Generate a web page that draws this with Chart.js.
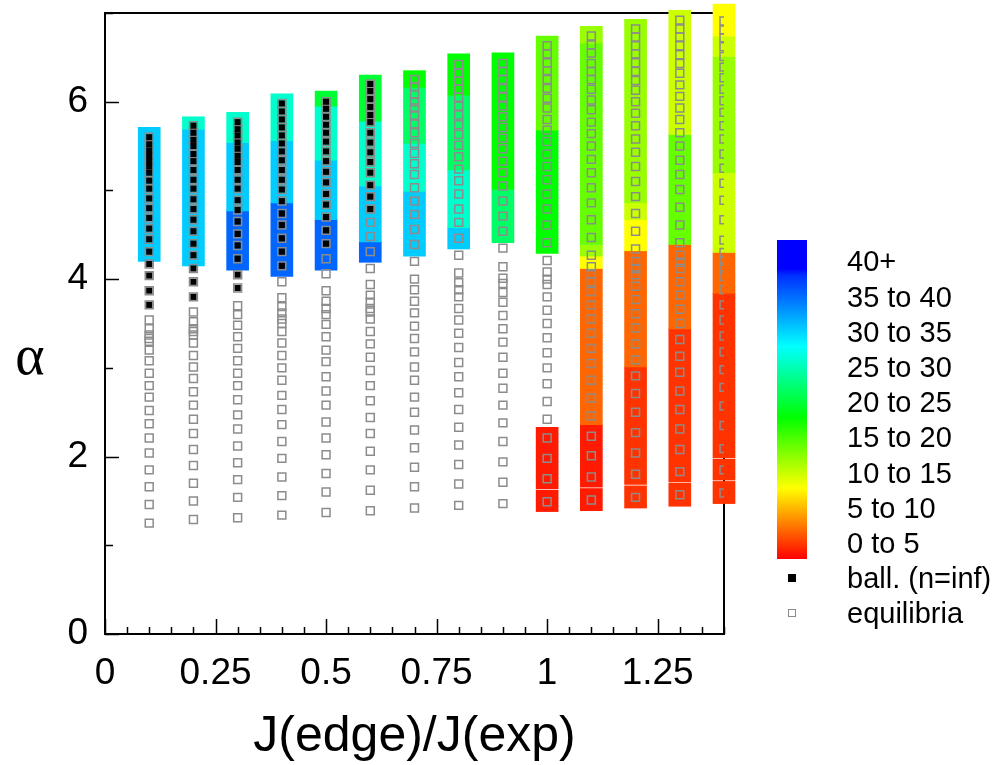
<!DOCTYPE html>
<html><head><meta charset="utf-8">
<script src="https://cdn.jsdelivr.net/npm/chart.js@4.4.1/dist/chart.umd.min.js"></script>
<style>
html,body{margin:0;padding:0;background:#fff;}
#wrap{position:relative;width:1005px;height:765px;overflow:hidden;font-family:'Liberation Sans',Arial,sans-serif;color:#000;}
canvas{position:absolute;left:0;top:0;}
#alpha{position:absolute;left:0;width:60px;top:325px;text-align:center;font-family:'Liberation Serif','Times New Roman',serif;font-size:56px;line-height:60px;}
#cbar{position:absolute;left:777px;top:240px;width:30px;height:319px;
 background:linear-gradient(to top,#ff0000 0%,#ff8000 11.1%,#ffff00 22.2%,#80ff00 33.3%,#00ff00 44.4%,#00ff80 55.5%,#00ffff 66.7%,#0080ff 80%,#0030ff 88.9%,#0000ff 91%,#0000ff 100%);}
.lab{position:absolute;left:847px;font-size:29px;line-height:34px;white-space:nowrap;}
.mk{position:absolute;box-sizing:border-box;}
</style></head><body>
<div id="wrap"><canvas id="c" width="1005" height="765"></canvas>
<div id="alpha">α</div>
<div id="cbar"></div>
<div id="legend"></div>
</div>
<script>
// ---- categories / ticks ----
const columns = [0.1, 0.2, 0.3, 0.4, 0.5, 0.6, 0.7, 0.8, 0.9, 1.0, 1.1, 1.2, 1.3, 1.4];
const xTickValues = [0, 0.25, 0.5, 0.75, 1, 1.25];
const xTickLabels = ['0', '0.25', '0.5', '0.75', '1', '1.25'];
const yTickValues = [0, 2, 4, 6];
const yTickLabels = ['0', '2', '4', '6'];
const bandLabels = ['0 to 5', '5 to 10', '10 to 15', '15 to 20', '20 to 25', '25 to 30', '30 to 35', '35 to 40', '40+'];

// ---- growth-rate bands per column: [alpha low, alpha high, growth rate] ----
const seg01 = [[4.20, 5.71, 33]];
const seg02 = [[4.15, 5.69, 33], [5.69, 5.83, 28]];
const seg03 = [[4.10, 4.77, 39], [4.77, 5.54, 33], [5.54, 5.88, 28]];
const seg04 = [[4.03, 4.86, 39], [4.86, 5.56, 33], [5.56, 6.09, 28]];
const seg05 = [[4.10, 4.67, 39], [4.67, 5.34, 33], [5.34, 5.95, 28], [5.95, 6.12, 22]];
const seg06 = [[4.19, 4.42, 39], [4.42, 5.05, 33], [5.05, 5.78, 28], [5.78, 6.30, 22]];
const seg07 = [[4.26, 4.99, 33], [4.99, 5.53, 28], [5.53, 6.16, 24], [6.16, 6.35, 20]];
const seg08 = [[4.34, 4.58, 33], [4.58, 5.23, 28], [5.23, 6.07, 24], [6.07, 6.54, 20]];
const seg09 = [[4.41, 5.01, 24], [5.01, 6.55, 20]];
const seg10 = [[1.38, 1.62, 1], [1.635, 2.33, 1], [4.29, 5.68, 20], [5.68, 6.74, 16]];
const seg11 = [[1.39, 1.64, 1], [1.655, 2.36, 1], [2.36, 4.12, 4], [4.12, 4.26, 10], [4.26, 4.39, 14], [4.39, 6.66, 16], [6.66, 6.85, 14]];
const seg12 = [[1.42, 1.67, 2], [1.685, 3.01, 2], [3.01, 4.32, 4], [4.32, 4.67, 10], [4.67, 4.86, 12], [4.86, 6.93, 14]];
const seg13 = [[1.44, 1.70, 2], [1.715, 3.44, 2], [3.44, 4.39, 4], [4.39, 5.63, 16], [5.63, 7.03, 12]];
const seg14 = [[1.47, 1.72, 2], [1.735, 1.97, 2], [1.985, 3.84, 2], [3.84, 4.30, 4], [4.30, 5.20, 12], [5.20, 6.51, 14], [6.51, 6.74, 12], [6.74, 7.10, 10]];

// ---- equilibria (alpha values) per column ----
const eq01 = [1.25,1.46,1.66,1.85,2.04,2.21,2.37,2.52,2.67,2.80,2.94,3.08,3.20,3.30,3.33,3.37,3.44,3.54,3.71,3.87,4.04,4.17,4.31,4.45,4.57,4.69,4.80,4.91,5.02,5.11,5.20,5.27,5.33,5.39,5.45,5.52,5.60];
const eq02 = [1.29,1.50,1.70,1.90,2.08,2.26,2.42,2.58,2.73,2.88,3.01,3.14,3.28,3.37,3.41,3.44,3.52,3.63,3.80,3.97,4.12,4.27,4.40,4.54,4.67,4.79,4.90,5.02,5.12,5.23,5.33,5.41,5.50,5.57,5.65,5.73];
const eq03 = [1.31,1.54,1.74,1.93,2.12,2.31,2.47,2.64,2.80,2.94,3.08,3.22,3.35,3.48,3.60,3.70,3.90,4.05,4.23,4.38,4.51,4.65,4.78,4.89,5.02,5.12,5.23,5.32,5.39,5.47,5.54,5.62,5.69,5.77];
const eq04 = [1.34,1.56,1.77,1.98,2.17,2.36,2.53,2.69,2.86,3.00,3.14,3.28,3.41,3.50,3.55,3.62,3.69,3.79,3.97,4.15,4.31,4.46,4.61,4.74,4.88,5.01,5.12,5.23,5.34,5.44,5.53,5.62,5.71,5.80,5.89,5.98];
const eq05 = [1.37,1.60,1.81,2.02,2.21,2.39,2.58,2.74,2.90,3.07,3.20,3.35,3.49,3.60,3.67,3.75,3.87,4.06,4.23,4.40,4.55,4.70,4.84,4.96,5.09,5.21,5.33,5.44,5.55,5.65,5.74,5.83,5.92,6.00];
const eq06 = [1.39,1.62,1.85,2.06,2.26,2.44,2.63,2.80,2.97,3.12,3.27,3.41,3.55,3.63,3.67,3.74,3.82,3.94,4.12,4.31,4.48,4.64,4.79,4.93,5.06,5.20,5.32,5.43,5.54,5.65,5.77,5.85,5.94,6.03,6.12,6.20];
const eq07 = [1.42,1.66,1.88,2.10,2.30,2.50,2.67,2.86,3.01,3.18,3.33,3.47,3.62,3.75,3.88,4.00,4.20,4.39,4.56,4.73,4.88,5.03,5.18,5.30,5.42,5.53,5.65,5.75,5.85,5.93,6.00,6.08,6.17,6.25];
const eq08 = [1.45,1.69,1.91,2.13,2.33,2.53,2.72,2.90,3.06,3.23,3.39,3.54,3.67,3.80,3.88,3.96,4.07,4.27,4.46,4.64,4.79,4.96,5.11,5.24,5.38,5.51,5.63,5.74,5.85,5.95,6.05,6.14,6.23,6.32,6.42];
const eq09 = [1.47,1.71,1.94,2.17,2.38,2.58,2.77,2.94,3.12,3.29,3.44,3.59,3.74,3.85,3.95,4.01,4.14,4.35,4.54,4.71,4.88,5.05,5.20,5.33,5.47,5.59,5.71,5.83,5.95,6.05,6.15,6.25,6.34,6.43];
const eq10 = [1.49,1.75,1.98,2.21,2.42,2.62,2.82,3.00,3.17,3.34,3.50,3.65,3.80,3.94,4.00,4.08,4.21,4.41,4.61,4.79,4.96,5.12,5.27,5.41,5.55,5.68,5.80,5.93,6.04,6.15,6.25,6.35,6.44,6.54,6.63];
const eq11 = [1.51,1.77,2.01,2.23,2.46,2.66,2.86,3.05,3.22,3.39,3.55,3.71,3.86,3.97,4.06,4.14,4.27,4.47,4.67,4.86,5.03,5.20,5.35,5.50,5.64,5.77,5.91,6.02,6.14,6.25,6.34,6.43,6.55,6.64,6.74];
const eq12 = [1.54,1.80,2.04,2.27,2.50,2.71,2.91,3.09,3.27,3.45,3.61,3.77,3.92,4.05,4.12,4.20,4.34,4.54,4.74,4.93,5.10,5.27,5.43,5.58,5.73,5.87,6.00,6.13,6.24,6.34,6.44,6.54,6.63,6.73,6.82];
const eq13 = [1.57,1.83,2.08,2.31,2.53,2.74,2.95,3.13,3.32,3.50,3.66,3.82,3.97,4.12,4.19,4.27,4.41,4.61,4.81,5.01,5.18,5.34,5.50,5.65,5.80,5.93,6.06,6.19,6.32,6.43,6.53,6.63,6.73,6.82,6.92];
const eq14 = [1.59,1.85,2.09,2.35,2.57,2.78,2.98,3.18,3.36,3.54,3.71,3.88,4.03,4.14,4.20,4.30,4.44,4.67,4.89,5.08,5.25,5.41,5.58,5.73,5.88,6.01,6.14,6.27,6.39,6.51,6.62,6.72,6.81,6.91];

// ---- ballooning unstable (n = inf) equilibria ----
const ball01 = [3.71,3.87,4.04,4.17,4.31,4.45,4.57,4.69,4.80,4.91,5.02,5.11,5.20,5.27,5.33,5.39,5.45,5.52,5.60];
const ball02 = [3.80,3.97,4.12,4.27,4.40,4.54,4.67,4.79,4.90,5.02,5.12,5.23,5.33,5.41,5.50,5.57,5.65,5.73];
const ball03 = [3.90,4.05,4.23,4.38,4.51,4.65,4.78,4.89,5.02,5.12,5.23,5.32,5.39,5.47,5.54,5.62,5.69,5.77];
const ball04 = [4.15,4.31,4.46,4.61,4.74,4.88,5.01,5.12,5.23,5.34,5.44,5.53,5.62,5.71,5.80,5.89,5.98];
const ball05 = [4.40,4.55,4.70,4.84,4.96,5.09,5.21,5.33,5.44,5.55,5.65,5.74,5.83,5.92,6.00];
const ball06 = [4.79,4.93,5.06,5.20,5.32,5.43,5.54,5.65,5.77,5.85,5.94,6.03,6.12,6.20];
const ballColumns = [0.1, 0.2, 0.3, 0.4, 0.5, 0.6];

const segments = [seg01,seg02,seg03,seg04,seg05,seg06,seg07,seg08,seg09,seg10,seg11,seg12,seg13,seg14];
const equilibria = [eq01,eq02,eq03,eq04,eq05,eq06,eq07,eq08,eq09,eq10,eq11,eq12,eq13,eq14];
const ballooning = [ball01,ball02,ball03,ball04,ball05,ball06];

// colour map: growth rate -> rainbow (red 0 ... blue 45)
function gammaColor(g) {
  const h = g <= 30 ? g * 6 : Math.min(240, 180 + (g - 30) * 4);
  const f = n => { const k = (n + h / 60) % 6; return Math.round(255 * (1 - Math.max(0, Math.min(k, 4 - k, 1)))); };
  return 'rgb(' + f(5) + ',' + f(3) + ',' + f(1) + ')';
}

const barData = [], barColors = [];
columns.forEach((x, i) => segments[i].forEach(s => { barData.push({x: x, y: [s[0], s[1]]}); barColors.push(gammaColor(s[2])); }));
const eqData = [];
columns.forEach((x, i) => equilibria[i].forEach(a => eqData.push({x: x, y: a})));
const ballData = [];
ballColumns.forEach((x, i) => ballooning[i].forEach(a => ballData.push({x: x, y: a})));

const FONT = "'Liberation Sans', Arial, sans-serif";

const framePlugin = {
  id: 'frame',
  beforeDatasetsDraw(chart) {
    const {ctx, chartArea: a, scales: {x, y}} = chart;
    ctx.save();
    ctx.strokeStyle = '#000';
    ctx.lineWidth = 1.5;
    ctx.beginPath();
    for (let k = 0; k <= 28; k++) {
      const v = k * 0.05;
      const px = Math.round(x.getPixelForValue(v)) + 0.5;
      const major = k % 5 === 0;
      ctx.moveTo(px, a.bottom);
      ctx.lineTo(px, a.bottom - (major ? 15 : 7));
    }
    for (let k = 0; k <= 7; k++) {
      const py = Math.round(y.getPixelForValue(k)) + 0.5;
      const major = k % 2 === 0;
      ctx.moveTo(a.left, py);
      ctx.lineTo(a.left + (major ? 14 : 8), py);
    }
    ctx.stroke();
    ctx.lineWidth = 2;
    ctx.strokeRect(a.left, a.top, a.right - a.left, a.bottom - a.top);
    ctx.restore();
  }
};

new Chart(document.getElementById('c'), {
  type: 'bar',
  data: {
    datasets: [
      { type: 'scatter', label: 'ball. (n=inf)', data: ballData, order: 0,
        pointStyle: 'rect', pointRadius: 4.3, backgroundColor: '#000', borderWidth: 0, pointHoverRadius: 4.3 },
      { type: 'scatter', label: 'equilibria', data: eqData, order: 1,
        pointStyle: 'rect', pointRadius: 5.6, backgroundColor: 'rgba(0,0,0,0)', borderColor: '#8c8c8c', borderWidth: 1.5, pointHoverRadius: 5.6 },
      { type: 'bar', label: 'growth rate', data: barData, order: 2, backgroundColor: barColors,
        borderWidth: 0, barThickness: 22, grouped: false, clip: false }
    ]
  },
  options: {
    responsive: false, animation: false, devicePixelRatio: 1,
    layout: { padding: { top: 13, right: 281, left: 0, bottom: 0 } },
    plugins: { legend: { display: false }, tooltip: { enabled: false } },
    scales: {
      x: {
        type: 'linear', min: 0, max: 1.4, offset: false,
        grid: { display: false, drawTicks: false }, border: { display: false },
        ticks: { color: '#000', font: { size: 37, family: FONT }, padding: 18, maxRotation: 0, autoSkip: false,
                 callback: (v, i) => xTickLabels[i] },
        afterBuildTicks: s => { s.ticks = xTickValues.map(v => ({ value: v })); },
        afterFit: s => { s.height = 131; s.paddingLeft = 0; s.paddingRight = 0; },
        title: { display: true, text: 'J(edge)/J(exp)', color: '#000', font: { size: 50, family: FONT, lineHeight: 1.1 }, padding: 0 }
      },
      y: {
        type: 'linear', min: 0, max: 7,
        grid: { display: false, drawTicks: false }, border: { display: false },
        ticks: { color: '#000', font: { size: 37, family: FONT }, padding: 17,
                 callback: (v, i) => yTickLabels[i] },
        afterBuildTicks: s => { s.ticks = yTickValues.map(v => ({ value: v })); },
        afterFit: s => { s.width = 105; s.paddingTop = 0; s.paddingBottom = 0; }
      }
    }
  },
  plugins: [framePlugin]
});

// legend (colour bar labels + marker entries)
const leg = document.getElementById('legend');
bandLabels.forEach((t, i) => {
  const d = document.createElement('div');
  d.className = 'lab'; d.textContent = t;
  d.style.top = (543 - i * 35.2 - 17) + 'px';
  leg.appendChild(d);
});
const markerLabels = ['ball. (n=inf)', 'equilibria'];
markerLabels.forEach((t, i) => {
  const cy = 578 + i * 35;
  const d = document.createElement('div');
  d.className = 'lab'; d.textContent = t; d.style.top = (cy - 17) + 'px';
  leg.appendChild(d);
  const m = document.createElement('div');
  m.className = 'mk';
  m.style.left = '788px'; m.style.top = (cy - 4) + 'px'; m.style.width = '8px'; m.style.height = '8px';
  if (i === 0) { m.style.background = '#000'; }
  else { m.style.border = '1.5px solid #8c8c8c'; }
  leg.appendChild(m);
});
</script>
</body></html>
